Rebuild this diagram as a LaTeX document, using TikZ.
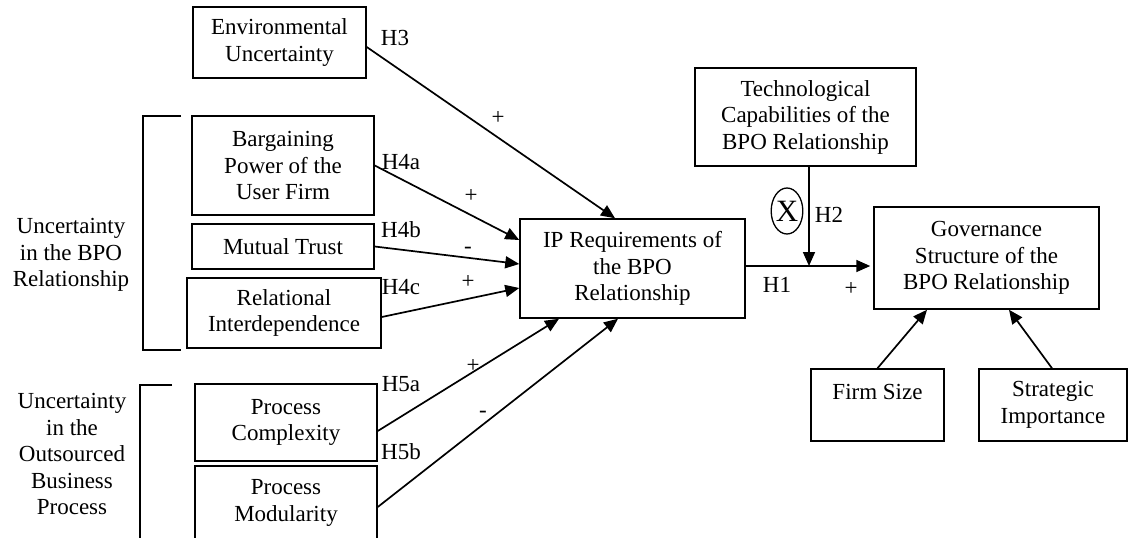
\documentclass[tikz,border=0pt]{standalone}
\usepackage{fontspec}
\setmainfont{Liberation Serif}
\usetikzlibrary{arrows.meta,shapes.geometric}
\begin{document}
\begin{tikzpicture}[x=1pt,y=-1pt,
  font=\fontsize{23}{26.5}\selectfont,
  box/.style={draw, line width=1.5pt, inner sep=0pt, align=center},
  arr/.style={line width=1.7pt, -{Triangle[length=14pt,width=12pt]}},
  brk/.style={line width=1.5pt},
  lab/.style={inner sep=0pt}]
\useasboundingbox (0,0) rectangle (1128,538);

% boxes
\node[box, minimum width=173pt, minimum height=71pt] (env) at (279.5,42.5) {Environmental\\Uncertainty};
\node[box, minimum width=182pt, minimum height=99pt] (barg) at (283,165.5) {Bargaining\\Power of the\\User Firm};
\node[box, minimum width=182pt, minimum height=45pt] (trust) at (283,246.5) {Mutual Trust};
\node[box, minimum width=194pt, minimum height=70pt] (rel) at (284,313) {Relational\\Interdependence};
\node[box, minimum width=182pt, minimum height=77pt] (comp) at (286,422.5) {Process\\Complexity};
\node[box, minimum width=182pt, minimum height=74pt] (mod) at (286,503) {Process\\Modularity};
\node[box, minimum width=225pt, minimum height=99pt] (ip) at (632.5,268.5) {IP Requirements of\\the BPO\\Relationship};
\node[box, minimum width=221pt, minimum height=98pt] (tech) at (805.5,117) {Technological\\Capabilities of the\\BPO Relationship};
\node[box, minimum width=225pt, minimum height=102pt] (gov) at (986.5,258) {Governance\\Structure of the\\BPO Relationship};
\node[box, minimum width=133pt, minimum height=72pt] (firm) at (877.5,405) {Firm Size\\\mbox{}};
\node[box, minimum width=148pt, minimum height=72pt] (strat) at (1053,405) {Strategic\\Importance};

% group labels and brackets
\node[lab, align=center] (grp1) at (71,255) {Uncertainty\\in the BPO\\Relationship};
\node[lab, align=center] (grp2) at (72,454) {Uncertainty\\in the\\Outsourced\\Business\\Process};
\draw[brk] (181,116) -- (143,116) -- (143,350) -- (181,350);
\draw[brk] (172,385) -- (140,385) -- (140,545);

% connectors
\draw[arr] ([yshift=-4.5pt]env.east) -- ([xshift=-17.5pt]ip.north);
\draw[arr] (barg.east) -- ([yshift=28.5pt]ip.west);
\draw[arr] (trust.east) -- ([yshift=4.5pt]ip.west);
\draw[arr] ([yshift=-4pt]rel.east) -- ([yshift=-19.5pt]ip.west);
\draw[arr] ([yshift=-8.5pt]comp.east) -- ([xshift=-73.5pt]ip.south);
\draw[arr] ([yshift=-4pt]mod.east) -- ([xshift=-14.5pt]ip.south);
\draw[arr, shorten >=3pt] ([yshift=2.5pt]ip.east) -- ([yshift=-8pt]gov.west);
\coordinate (h2end) at (809,266);
\draw[arr] ([xshift=3.5pt]tech.south) -- (h2end);
\draw[arr] (firm.north) -- ([xshift=-59.5pt]gov.south);
\draw[arr] ([xshift=-1pt]strat.north) -- ([xshift=22.5pt]gov.south);

% moderator symbol
\node[draw, ellipse, line width=1.3pt, minimum width=29pt, minimum height=46pt, inner sep=0pt, font=\fontsize{31}{31}\selectfont] (xmod) at (787,211) {X};

% path labels
\node[lab] (lh3) at (395,38) {H3};
\node[lab] (sh3) at (498,118) {+};
\node[lab] (lh4a) at (401,162) {H4a};
\node[lab] (sh4a) at (471,196) {+};
\node[lab] (lh4b) at (401,230) {H4b};
\node[lab] (sh4b) at (468,250) {-};
\node[lab] (lh4c) at (401,287) {H4c};
\node[lab] (sh4c) at (468,282) {+};
\node[lab] (lh5a) at (401,384) {H5a};
\node[lab] (sh5a) at (473,366) {+};
\node[lab] (lh5b) at (401,452) {H5b};
\node[lab] (sh5b) at (483,414) {-};
\node[lab] (lh1) at (777,285) {H1};
\node[lab] (sh1) at (851,289) {+};
\node[lab] (lh2) at (829,215) {H2};
\end{tikzpicture}
\end{document}
